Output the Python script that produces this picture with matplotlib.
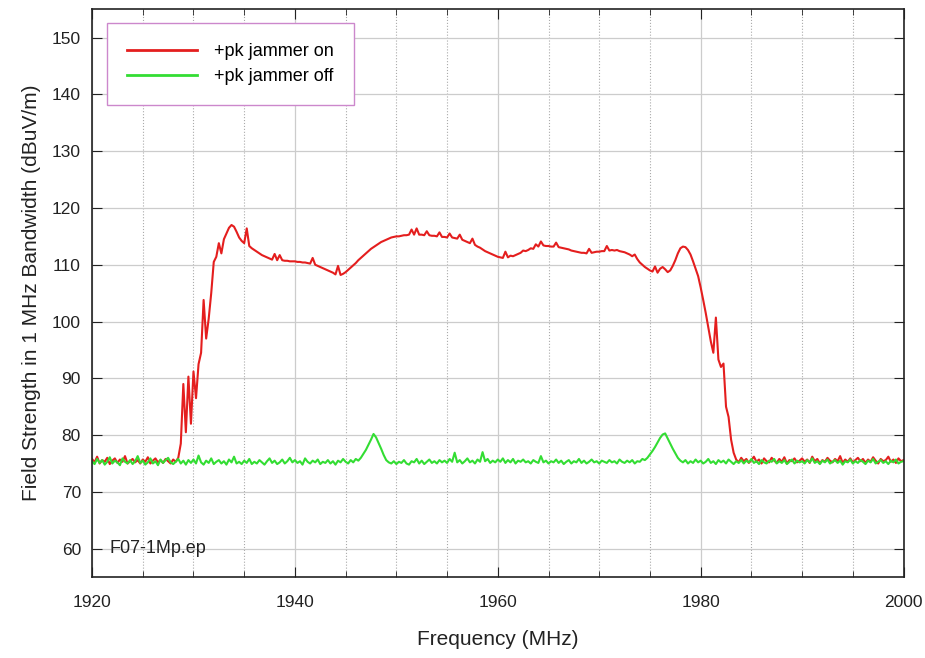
import numpy as np
import matplotlib
matplotlib.use("Agg")
import matplotlib.pyplot as plt
from matplotlib.ticker import MultipleLocator

plt.rcParams['font.family'] = ['Liberation Sans', 'DejaVu Sans']

# sweep: 1920 - 2000 MHz, 0.25 MHz steps
freq = np.arange(1920, 2000.1, 0.25)

# +pk trace with the jammer switched on (dBuV/m), one row per 5 MHz
jammer_on = [
    75.8, 75.2, 76.2, 75.0, 75.6, 75.3, 76.0, 74.9, 75.5, 75.9, 75.1, 75.7, 75.3, 76.3, 75.0, 75.4, 75.8, 75.2, 75.6, 75.0,
    75.7, 75.3, 76.1, 75.0, 75.5, 75.9, 75.2, 75.6, 75.1, 75.8, 75.4, 75.0, 75.7, 75.3, 76.0, 78.5, 89.0, 80.5, 90.3, 82.0,
    91.2, 86.5, 92.5, 94.5, 103.8, 97.0, 100.5, 105.0, 110.5, 111.4, 113.8, 112.0, 114.5, 115.5, 116.5, 117.0, 116.7, 115.8, 114.8, 114.2,
    113.8, 116.4, 113.3, 112.9, 112.6, 112.3, 112.0, 111.7, 111.5, 111.3, 111.1, 110.9, 111.9, 110.8, 111.7, 110.8, 110.7, 110.7, 110.6, 110.6,
    110.6, 110.5, 110.5, 110.4, 110.4, 110.3, 110.2, 111.2, 110.0, 109.8, 109.6, 109.4, 109.2, 109.0, 108.8, 108.6, 108.3, 109.8, 108.2, 108.4,
    108.7, 109.1, 109.5, 109.9, 110.3, 110.8, 111.2, 111.6, 112.0, 112.4, 112.8, 113.1, 113.4, 113.7, 114.0, 114.2, 114.4, 114.6, 114.8, 114.9,
    115.0, 115.0, 115.1, 115.2, 115.2, 115.3, 116.2, 115.3, 116.4, 115.3, 115.3, 115.2, 115.9, 115.2, 115.1, 115.1, 115.0, 115.7, 114.9, 114.9,
    114.8, 115.5, 114.8, 114.7, 114.6, 115.3, 114.4, 114.2, 114.0, 113.8, 114.6, 113.5, 113.2, 113.0, 112.7, 112.4, 112.2, 112.0, 111.8, 111.6,
    111.4, 111.3, 111.2, 112.3, 111.3, 111.6, 111.5, 111.7, 111.9, 112.1, 112.5, 112.4, 112.6, 112.9, 112.8, 113.6, 113.2, 114.1, 113.4, 113.3,
    113.3, 113.2, 113.2, 113.9, 113.1, 113.0, 112.9, 112.8, 112.7, 112.5, 112.4, 112.3, 112.2, 112.1, 112.1, 112.0, 112.8, 112.1, 112.2, 112.3,
    112.3, 112.4, 112.4, 113.3, 112.5, 112.6, 112.5, 112.6, 112.4, 112.3, 112.2, 112.0, 111.8, 111.5, 111.8, 111.0, 110.4, 110.0, 109.6, 109.3,
    109.0, 108.8, 109.7, 108.6, 109.3, 109.6, 109.2, 108.7, 109.0, 109.8, 110.8, 112.0, 112.9, 113.2, 113.1, 112.6, 111.8, 110.6, 109.3, 108.0,
    106.0, 103.8, 101.5, 99.0, 96.5, 94.5, 100.7, 93.3, 92.0, 92.6, 85.0, 83.2, 79.2, 76.9, 75.7, 75.2, 76.0, 75.4, 75.8, 75.1,
    75.6, 76.2, 75.3, 75.7, 75.0, 75.9, 75.4, 75.2, 76.0, 75.5, 75.1, 75.8, 75.3, 76.1, 75.0, 75.6, 75.4, 75.9, 75.2, 75.5,
    75.9, 75.3, 75.7, 75.1, 76.2, 75.4, 75.8, 75.0, 75.6, 75.3, 76.0, 75.5, 75.2, 75.8, 75.4, 76.3, 75.1, 75.7, 75.3, 75.9,
    75.2, 75.6, 76.0, 75.4, 75.8, 75.1, 75.7, 75.3, 76.1, 75.5, 75.0, 75.8, 75.4, 75.6, 76.2, 75.3, 75.7, 75.1, 75.9, 75.4,
    75.6,
]

# +pk trace with the jammer off
jammer_off = [
    75.4, 74.9, 75.8, 75.1, 75.6, 74.8, 75.3, 76.1, 75.0, 75.5, 75.2, 74.7, 75.9, 75.3, 75.0, 75.6, 74.9, 75.4, 76.3, 75.1,
    75.5, 74.8, 75.2, 75.9, 75.0, 75.4, 74.7, 75.7, 75.1, 75.6, 76.0, 75.2, 74.9, 75.3, 75.8, 75.0, 75.5, 74.8, 75.6, 75.1,
    75.7, 75.0, 76.4, 75.2, 74.8, 75.5, 75.1, 75.9, 74.9, 75.3, 75.6, 75.0, 75.4, 74.8, 75.7, 75.2, 76.2, 75.0, 75.3, 74.9,
    75.5, 75.1, 75.8, 74.9, 75.3, 75.0, 75.6, 75.2, 74.8, 75.4, 75.9, 75.1, 75.5, 74.9, 75.2, 75.7, 75.0, 75.4, 76.0, 75.2,
    75.6, 75.1, 75.4, 74.8, 75.9, 75.3, 75.0, 75.5, 75.2, 75.7, 74.9, 75.3, 75.1, 75.6, 75.0, 75.4, 74.8, 75.5, 75.2, 75.8,
    75.3, 75.0, 75.6, 75.2, 75.8, 75.5, 76.0, 76.7, 77.4, 78.3, 79.2, 80.2, 79.6, 78.6, 77.6, 76.5, 75.6, 75.2, 75.0, 75.4,
    74.9, 75.3, 75.1, 75.6, 75.0, 74.8, 75.4, 75.2, 75.8, 75.0, 75.5, 74.9, 75.3, 75.7, 75.1, 75.4, 75.0, 75.6, 75.2, 75.5,
    75.1, 75.8, 75.3, 76.9, 75.2, 75.6, 75.0, 75.4, 75.9, 75.2, 75.5, 75.0, 75.7, 75.3, 77.0, 75.4, 75.8, 75.1, 75.5, 75.2,
    75.7, 75.3, 75.9, 75.1, 75.6, 75.2, 75.8, 75.0, 75.5, 75.3, 75.7, 75.2, 75.4, 75.0, 75.6, 75.3, 75.1, 76.3, 75.2, 75.5,
    75.0, 75.4, 75.2, 75.7, 75.1, 75.5, 74.9, 75.3, 75.6, 75.0, 75.4, 75.2, 75.8, 75.1, 75.5, 75.0, 75.3, 75.7, 75.2, 75.4,
    75.0, 75.5, 75.3, 75.1, 75.6, 75.2, 75.4, 75.0, 75.7, 75.3, 75.1, 75.5, 75.2, 75.6, 75.0, 75.4, 75.3, 75.8, 75.6, 76.0,
    76.6, 77.2, 77.9, 78.7, 79.5, 80.1, 80.3, 79.4, 78.5, 77.6, 76.8, 76.0, 75.5, 75.2, 75.6, 75.0, 75.4, 75.1, 75.7, 75.2,
    75.5, 75.0, 75.3, 75.8, 75.1, 75.4, 74.9, 75.6, 75.2, 75.5, 75.0, 75.7, 75.3, 74.9, 75.4, 75.1, 75.6, 75.0, 75.5, 75.2,
    75.8, 75.1, 75.4, 74.9, 75.6, 75.2, 75.0, 75.5, 75.3, 75.8, 75.0, 75.4, 75.1, 75.6, 74.9, 75.3, 75.7, 75.0, 75.5, 75.2,
    75.4, 75.0, 75.6, 75.2, 75.9, 75.1, 75.4, 74.9, 75.5, 75.2, 75.7, 75.0, 75.3, 75.6, 75.1, 75.5, 74.8, 75.4, 75.2, 75.7,
    75.0, 75.4, 75.1, 75.6, 75.3, 74.9, 75.5, 75.2, 75.8, 75.0, 75.3, 75.6, 75.1, 75.4, 74.9, 75.5, 75.2, 75.7, 75.0, 75.3,
    75.4,
]

fig = plt.figure(figsize=(9.25, 6.58), dpi=100)
ax = fig.add_axes([0.0995, 0.123, 0.8773, 0.863])

ax.plot(freq, jammer_on, color='#e41e1e', lw=1.5, label='+pk jammer on')
ax.plot(freq, jammer_off, color='#33dd33', lw=1.5, label='+pk jammer off')

ax.set_xlim(1920, 2000)
ax.set_ylim(55, 155)
ax.xaxis.set_major_locator(MultipleLocator(20))
ax.xaxis.set_minor_locator(MultipleLocator(5))
ax.yaxis.set_major_locator(MultipleLocator(10))

ax.grid(which='major', axis='x', color='#cccccc', lw=0.9, ls='-')
ax.grid(which='minor', axis='x', color='#aaaaaa', lw=0.8, ls=':')
ax.grid(which='major', axis='y', color='#cccccc', lw=0.9, ls='-')
ax.set_axisbelow(True)

ax.tick_params(which='both', direction='in', top=True, right=True, colors='#222222')
ax.tick_params(which='major', length=7, labelsize=12.5, labelcolor='#222222')
ax.tick_params(which='minor', length=4)
ax.tick_params(axis='x', which='major', pad=13)
ax.tick_params(axis='y', which='major', pad=8)
for s in ax.spines.values():
    s.set_linewidth(1.2)
    s.set_color('#222222')

ax.set_xlabel('Frequency (MHz)', fontsize=15, labelpad=14, color='#222222')
ax.set_ylabel('Field Strength in 1 MHz Bandwidth (dBuV/m)', fontsize=15, labelpad=8, color='#222222')

ax.text(1921.7, 60, 'F07-1Mp.ep', fontsize=13, va='center', color='#222222')

leg = ax.legend(loc='upper left', bbox_to_anchor=(0.0185, 0.975), fancybox=False,
                edgecolor='#cc88cc', framealpha=1, fontsize=13, handlelength=3.9,
                handletextpad=0.95, borderpad=1.1, labelspacing=0.45, borderaxespad=0)
leg.get_frame().set_linewidth(1.0)
for line in leg.get_lines():
    line.set_linewidth(2.0)

fig.savefig('out.png', dpi=100)
